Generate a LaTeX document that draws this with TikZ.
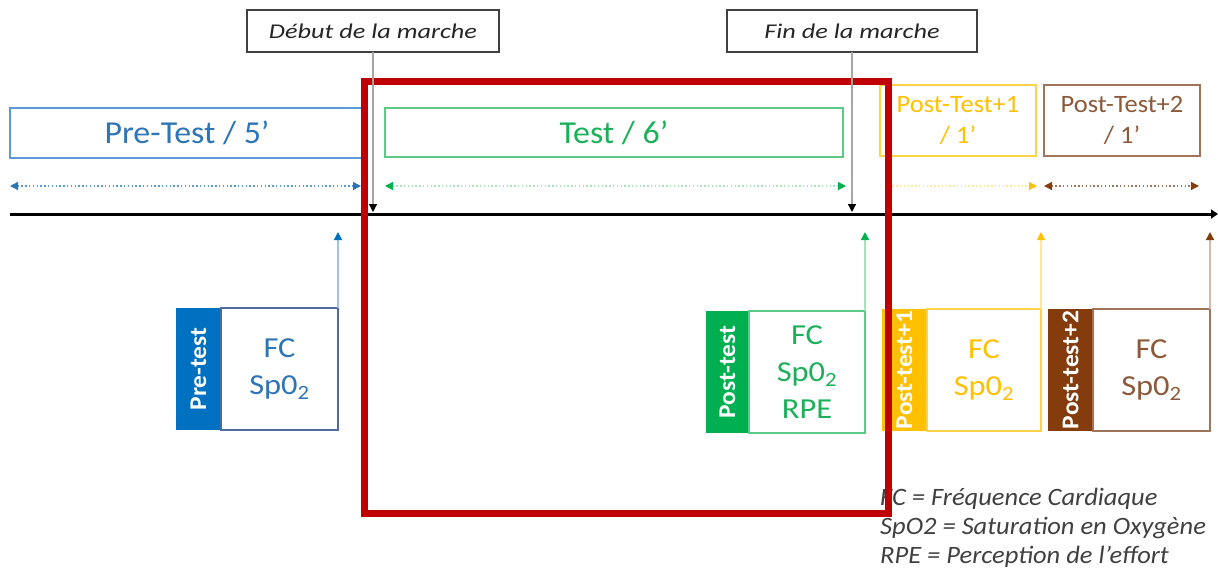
\documentclass[tikz,border=0pt]{standalone}
\usepackage{fontspec}
\setmainfont{Carlito}[FakeStretch=1.06]
\newfontfamily\calloutfont{Carlito}[FakeStretch=1.25]
\newfontfamily\measfont{Carlito}[FakeStretch=1.12]
\usetikzlibrary{arrows.meta}

\definecolor{redframe}{HTML}{C00000}
\definecolor{bluetxt}{HTML}{2E75B6}
\definecolor{blueline}{HTML}{5B9BD5}
\definecolor{bluedark}{HTML}{0070C0}
\definecolor{bluegray}{HTML}{4F6AA0}
\definecolor{bluepale}{HTML}{9DC3E6}
\definecolor{greentxt}{HTML}{1DB05A}
\definecolor{greendark}{HTML}{00B050}
\definecolor{greenline}{HTML}{5CC985}
\definecolor{greenpale}{HTML}{A9E2BD}
\definecolor{yellowdark}{HTML}{FFC000}
\definecolor{yellowline}{HTML}{FFD24D}
\definecolor{yellowpale}{HTML}{FFE699}
\definecolor{browndark}{HTML}{843C0C}
\definecolor{browntxt}{HTML}{8C5A3A}
\definecolor{brownline}{HTML}{A07458}
\definecolor{brownpale}{HTML}{D2B8A6}
\definecolor{calloutline}{HTML}{404040}
\definecolor{callouttxt}{HTML}{262626}
\definecolor{legendtxt}{HTML}{404040}

\tikzset{
  box/.style={draw, line width=1.3pt, fill=white, anchor=north west, inner sep=0pt, outer sep=0pt, align=center},
  phasebox/.style={box, font=\fontsize{32}{36}\selectfont},
  postbox/.style={box, font=\fontsize{25}{31}\selectfont},
  callout/.style={box, draw=calloutline, line width=1.2pt, text=callouttxt, font=\calloutfont\fontsize{21}{26}\selectfont\itshape},
  tabbox/.style={anchor=north west, inner sep=0pt, outer sep=0pt, minimum width=45pt, minimum height=122pt},
  tablabel/.style={rotate=90, text=white, font=\fontsize{24}{28}\selectfont\bfseries},
  measbox/.style={box, line width=1.2pt, minimum height=122pt, font=\measfont\fontsize{29}{37}\selectfont},
  span/.style={line width=1.3pt, dash pattern=on 1.4pt off 2.4pt},
  uparrow/.style={line width=1.3pt},
}

\newcommand{\spo}{Sp0\textsubscript{2}}

\begin{document}
\begin{tikzpicture}[x=1pt, y=-1pt]
\useasboundingbox (0,0) rectangle (1218,570);

% phase boxes
\node[phasebox, draw=blueline, text=bluetxt, minimum width=354pt, minimum height=50pt] (pre) at (10,108) {Pre-Test / 5’};
\node[phasebox, draw=greenline, text=greentxt, minimum width=458pt, minimum height=49pt] (test) at (385,108) {Test / 6’};
\node[postbox, draw=yellowline, text=yellowdark, minimum width=156pt, minimum height=71pt] (post1) at (880,85) {Post-Test+1\\/ 1’};
\node[postbox, draw=brownline, text=browntxt, minimum width=156pt, minimum height=71pt] (post2) at (1044,85) {Post-Test+2\\/ 1’};

% duration spans
\coordinate (preL) at (10,186);   \coordinate (preR) at (361,186);
\coordinate (testL) at (385,186); \coordinate (testR) at (846,186);
\coordinate (p1L) at (881,186);   \coordinate (p1R) at (1037,186);
\coordinate (p2L) at (1044,186);  \coordinate (p2R) at (1199,186);
\draw[span, draw=blueline, {Triangle[length=8pt,width=8pt,color=bluetxt]}-{Triangle[length=8pt,width=8pt,color=bluetxt]}] (preL) -- (preR);
\draw[span, draw=greenpale, {Triangle[length=8pt,width=8pt,color=greendark]}-{Triangle[length=8pt,width=8pt,color=greendark]}] (testL) -- (testR);
\draw[span, draw=yellowpale, -{Triangle[length=8pt,width=8pt,color=yellowdark]}] (p1L) -- (p1R);
\draw[span, draw=brownline, {Triangle[length=8pt,width=8pt,color=browndark]}-{Triangle[length=8pt,width=8pt,color=browndark]}] (p2L) -- (p2R);

% time axis
\coordinate (axL) at (10,214);
\coordinate (axR) at (1218,214);
\draw[line width=3pt, -{Triangle[length=7pt,width=9pt]}] (axL) -- (axR);

% legend
\node[anchor=north west, inner sep=0pt, align=left, text=legendtxt, font=\fontsize{25}{29}\selectfont\itshape] (legend) at (880,488)
  {FC = Fréquence Cardiaque\\SpO2 = Saturation en Oxygène\\RPE = Perception de l’effort};

% measurement points
\node[tabbox, fill=bluedark] (tabpre) at (176,308) {};
\node[tablabel] at (tabpre.center) {Pre-test};
\node[measbox, draw=bluegray, text=bluetxt, minimum width=117pt] (mpre) at (221,308) {FC\\\spo};

\node[tabbox, fill=greendark, minimum width=43pt] (tabpost) at (706,311) {};
\node[tablabel] at (tabpost.center) {Post-test};
\node[measbox, draw=greenline, text=greentxt, minimum width=116pt] (mpost) at (749,311) {FC\\\spo\\RPE};

\node[tabbox, fill=yellowdark] (tabp1) at (882,309) {};
\node[tablabel] at (tabp1.center) {Post-test+1};
\node[measbox, draw=yellowline, text=yellowdark, minimum width=114pt] (mp1) at (927,309) {FC\\\spo};

\node[tabbox, fill=browndark] (tabp2) at (1048,309) {};
\node[tablabel] at (tabp2.center) {Post-test+2};
\node[measbox, draw=brownline, text=browntxt, minimum width=117pt] (mp2) at (1093,309) {FC\\\spo};

\coordinate (tpre) at (338,232);
\coordinate (tpost) at (865,232);
\coordinate (tp1) at (1041,232);
\coordinate (tp2) at (1210,232);
\draw[uparrow, draw=bluepale, -{Triangle[length=8pt,width=8pt,color=bluedark]}] (mpre.north east) -- (tpre);
\draw[uparrow, draw=greenpale, -{Triangle[length=8pt,width=8pt,color=greendark]}] (mpost.north east) -- (tpost);
\draw[uparrow, draw=yellowpale, -{Triangle[length=8pt,width=8pt,color=yellowdark]}] (mp1.north east) -- (tp1);
\draw[uparrow, draw=brownpale, -{Triangle[length=8pt,width=8pt,color=browndark]}] (mp2.north east) -- (tp2);

% walking period frame
\draw[redframe, line width=7pt] (364,81) rectangle (888,513);

% start / end of walk callouts
\node[callout, minimum width=252pt, minimum height=42pt] (start) at (247,10) {Début de la marche};
\node[callout, minimum width=250pt, minimum height=42pt] (end) at (727,10) {Fin de la marche};
\coordinate (startT) at (373,212);
\coordinate (endT) at (852,212);
\draw[line width=1.2pt, draw=gray!70, -{Triangle[length=8pt,width=8pt,color=black]}] (start.south) -- (startT);
\draw[line width=1.2pt, draw=gray!70, -{Triangle[length=8pt,width=8pt,color=black]}] (end.south) -- (endT);
\end{tikzpicture}
\end{document}
